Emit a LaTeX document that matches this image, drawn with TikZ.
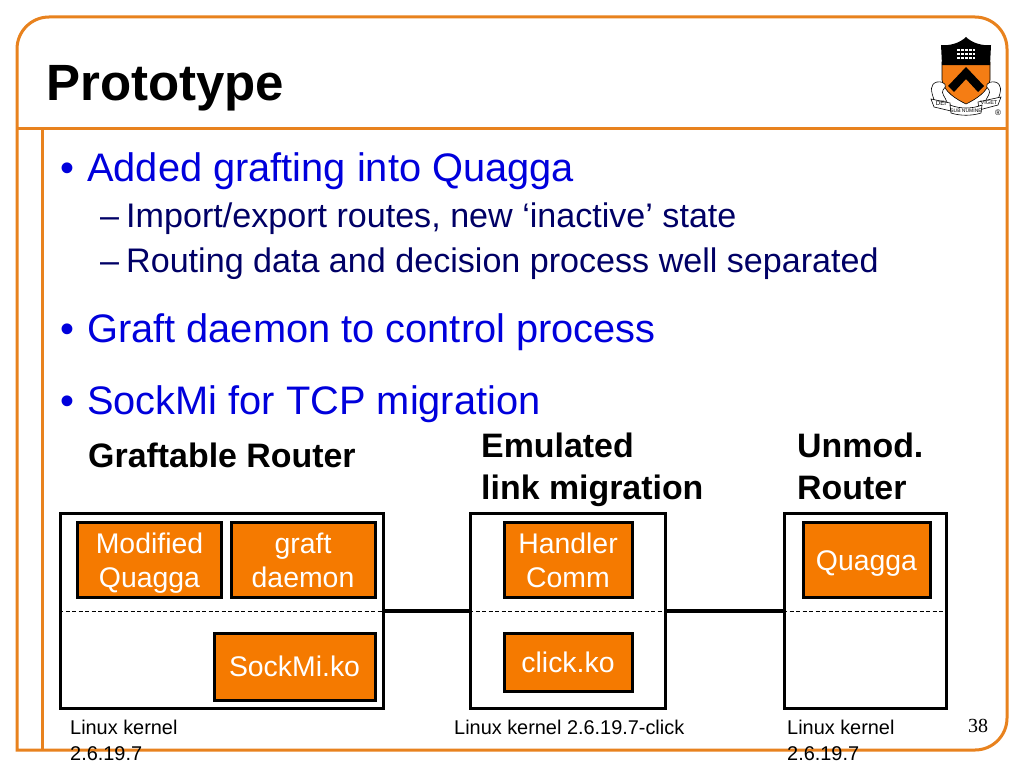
\documentclass[tikz,border=0pt]{standalone}
\usepackage{fontspec}
\setmainfont{Liberation Sans}
\newfontfamily\pagefont{Liberation Serif}
\definecolor{frameorange}{RGB}{232,130,30}
\definecolor{boxorange}{RGB}{245,122,0}
\definecolor{shieldorange}{RGB}{245,125,20}
\definecolor{headblue}{RGB}{0,0,220}
\definecolor{subblue}{RGB}{0,0,102}
\newcommand{\modstrut}{\rule[-7pt]{0pt}{34pt}}
\begin{document}
\begin{tikzpicture}[
    x=1pt, y=-1pt,
    % Define styles
    frame_line/.style={
        frameorange,
        line width=3pt
    },
    router_box/.style={
        draw=black,
        line width=3pt,
        fill=white,
        inner sep=0pt
    },
    module_box/.style={
        draw=black,
        line width=3pt,
        fill=boxorange,
        text=white,
        align=center,
        inner sep=0pt,
        font=\fontsize{28.4}{34}\selectfont
    },
    cut_line/.style={
        black,
        line width=0.9pt,
        dash pattern=on 4pt off 2.5pt
    },
    link_line/.style={
        black,
        line width=3.2pt
    },
    title_text/.style={
        anchor=base west,
        inner sep=0pt,
        font=\fontsize{51}{60}\selectfont\bfseries
    },
    head_text/.style={
        anchor=base west,
        inner sep=0pt,
        text=headblue,
        font=\fontsize{39.8}{46}\selectfont
    },
    sub_text/.style={
        anchor=base west,
        inner sep=0pt,
        text=subblue,
        font=\fontsize{34.1}{40}\selectfont
    },
    column_text/.style={
        anchor=base west,
        inner sep=0pt,
        align=left,
        font=\fontsize{33.9}{42}\selectfont\bfseries
    },
    kernel_text/.style={
        anchor=base west,
        inner sep=0pt,
        align=left,
        font=\fontsize{19.9}{26}\selectfont
    },
    logo_text/.style={
        inner sep=0pt,
        font=\fontsize{6.2}{7}\selectfont
    }
]

    \useasboundingbox (0,0) rectangle (1024,768);
    \fill[white] (0,0) rectangle (1024,768);

    % --- Slide frame ---
    \draw[frame_line] (17,750) [rounded corners=32pt] -- (17,17) -- (1007,17) -- (1007,750) [sharp corners] -- (17,750) -- cycle;
    \draw[frame_line] (17,128) -- (1007,128);
    \draw[frame_line] (42,128) -- (42,750);

    % --- Title and bullets ---
    \node[title_text] (title) at (46,100) {Prototype};

    \node[head_text] (bulletA) at (60,181) {•};
    \node[head_text] (headA) at (87,181) {Added grafting into Quagga};
    \node[sub_text] (dashA) at (100,227) {–};
    \node[sub_text] (subA) at (126,227) {Import/export routes, new ‘inactive’ state};
    \node[sub_text] (dashB) at (100,272) {–};
    \node[sub_text] (subB) at (126,272) {Routing data and decision process well separated};
    \node[head_text] (bulletB) at (60,342) {•};
    \node[head_text] (headB) at (87,342) {Graft daemon to control process};
    \node[head_text] (bulletC) at (60,414) {•};
    \node[head_text] (headC) at (87,414) {SockMi for TCP migration};

    % --- Column headings ---
    \node[column_text] (graftable) at (88,467) {Graftable Router};
    \node[column_text] (emulated) at (481,499) {Emulated\\link migration};
    \node[column_text] (unmod) at (797,499) {Unmod.\\Router};

    % --- Routers ---
    \node[router_box, minimum width=323pt, minimum height=195pt] (routerA) at (222,611) {};
    \node[router_box, minimum width=195pt, minimum height=195pt] (routerB) at (568,611) {};
    \node[router_box, minimum width=162pt, minimum height=195pt] (routerC) at (865.5,611) {};

    % Dashed user/kernel split, ends on the router edges
    \coordinate (cutAw) at (routerA.west);
    \coordinate (cutAe) at (routerA.east);
    \coordinate (cutBw) at (routerB.west);
    \coordinate (cutBe) at (routerB.east);
    \coordinate (cutCw) at (routerC.west);
    \coordinate (cutCe) at (routerC.east);
    \draw[cut_line] (cutAw) -- (cutAe);
    \draw[cut_line] (cutBw) -- (cutBe);
    \draw[cut_line] (cutCw) -- (cutCe);

    % Links between routers
    \draw[link_line] (cutAe) -- (cutBw);
    \draw[link_line] (cutBe) -- (cutCw);

    % --- Modules ---
    \node[module_box, minimum width=144pt, minimum height=75pt] (quaggaA) at (149.5,560) {\modstrut Modified\\\modstrut Quagga};
    \node[module_box, minimum width=144pt, minimum height=75pt] (daemon) at (303,560) {\modstrut graft\\\modstrut daemon};
    \node[module_box, minimum width=161pt, minimum height=67pt] (sockmi) at (294.5,666.5) {\modstrut SockMi.ko};
    \node[module_box, minimum width=128pt, minimum height=75pt] (handler) at (568,560) {\modstrut Handler\\\modstrut Comm};
    \node[module_box, minimum width=128pt, minimum height=58pt] (click) at (568,662) {\modstrut click.ko};
    \node[module_box, minimum width=127pt, minimum height=75pt] (quaggaC) at (866.5,560) {\modstrut Quagga};

    % --- Kernel labels ---
    \node[kernel_text] (kernelA) at (70,760) {Linux kernel\\2.6.19.7};
    \node[kernel_text] (kernelB) at (454,734) {Linux kernel 2.6.19.7-click};
    \node[kernel_text] (kernelC) at (787,760) {Linux kernel\\2.6.19.7};
    \node[anchor=base west, inner sep=0pt, font=\pagefont\fontsize{20}{24}\selectfont] (pagenum) at (968,732) {38};

    % --- Logo ---
    \fill[shieldorange, draw=black, line width=0.6pt] (942,62) -- (942,80) .. controls (944,92) and (956,99) .. (966,104)
        .. controls (976,99) and (988,92) .. (990,80) -- (990,62) -- cycle;
    \fill[black] (941,45) .. controls (950,46) and (960,43) .. (966,37)
        .. controls (972,43) and (982,46) .. (991,45) -- (990,65) -- (942,65) -- cycle;
    \fill[black] (966,67) -- (984,86) -- (978,92) -- (966,79) -- (954,92) -- (948,86) -- cycle;
    \foreach \rowy in {50,54,58} {
        \draw[white, line width=1.6pt, dash pattern=on 3pt off 1pt] (957,\rowy) -- (975,\rowy);
    }
    \draw[black, fill=white, line width=0.6pt] (935,102) .. controls (930,90) and (930,84) .. (937,82) .. controls (945,81) and (948,86) .. (943,90) .. controls (941,93) and (945,97) .. (947,102);
    \draw[black, fill=white, line width=0.6pt] (997,102) .. controls (1002,90) and (1002,84) .. (995,82) .. controls (987,81) and (984,86) .. (989,90) .. controls (991,93) and (987,97) .. (985,102);
    \draw[black, fill=white, line width=0.6pt] (931,99) -- (950,103) -- (951,111) -- (934,107) -- cycle;
    \draw[black, fill=white, line width=0.6pt] (1001,97) -- (978,102) -- (979,110) -- (998,105) -- cycle;
    \draw[black, fill=white, line width=0.6pt] (950,105) .. controls (960,109) and (972,109) .. (982,105) -- (981,113) .. controls (972,116) and (960,116) .. (951,113) -- cycle;
    \node[logo_text] (dei) at (941,103.5) {DEI};
    \node[logo_text, font=\fontsize{5}{6}\selectfont] (numine) at (966,110.5) {SUB NUMINE};
    \node[logo_text, font=\fontsize{5.6}{6}\selectfont] (viget) at (989,102.5) {VIGET};
    \node[logo_text, font=\fontsize{8}{9}\selectfont] (regmark) at (998,113) {®};

\end{tikzpicture}
\end{document}
